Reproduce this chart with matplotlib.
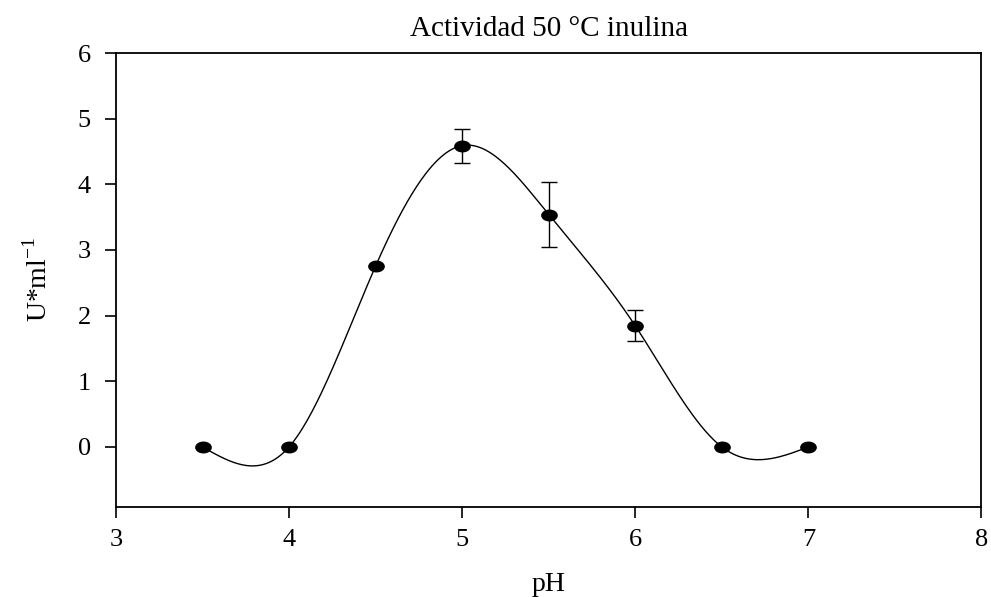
import numpy as np
import matplotlib.pyplot as plt
from matplotlib.path import Path

# data
ph = np.array([3.5, 4.0, 4.5, 5.0, 5.5, 6.0, 6.5, 7.0])
actividad = np.array([0.0, 0.0, 2.755, 4.59, 3.54, 1.845, 0.0, 0.0])
error = np.array([0.0, 0.0, 0.0, 0.26, 0.49, 0.235, 0.0, 0.0])


def natural_spline(x, y, xs):
    # natural cubic spline through the points
    n = len(x)
    h = np.diff(x)
    A = np.zeros((n, n))
    b = np.zeros(n)
    A[0, 0] = 1
    A[-1, -1] = 1
    for i in range(1, n - 1):
        A[i, i - 1] = h[i - 1]
        A[i, i] = 2 * (h[i - 1] + h[i])
        A[i, i + 1] = h[i]
        b[i] = 6 * ((y[i + 1] - y[i]) / h[i] - (y[i] - y[i - 1]) / h[i - 1])
    M = np.linalg.solve(A, b)
    ys = np.zeros_like(xs)
    for k, xv in enumerate(xs):
        i = min(np.searchsorted(x, xv, side='right') - 1, n - 2)
        i = max(i, 0)
        t1 = x[i + 1] - xv
        t0 = xv - x[i]
        ys[k] = (M[i] * t1**3 + M[i + 1] * t0**3) / (6 * h[i]) \
            + (y[i] / h[i] - M[i] * h[i] / 6) * t1 \
            + (y[i + 1] / h[i] - M[i + 1] * h[i] / 6) * t0
    return ys


plt.rcParams['font.family'] = 'Liberation Serif'
label_size = 19

fig = plt.figure(figsize=(9.91, 5.97), dpi=100)
ax = fig.add_axes([0.117, 0.1513, 0.8734, 0.7599])

xs = np.linspace(ph[0], ph[-1], 400)
ax.plot(xs, natural_spline(ph, actividad, xs), color='black', linewidth=1.0, zorder=2)

# slightly flattened dot, like the original
ellipse = Path(Path.unit_circle().vertices * [1.45, 1.0], Path.unit_circle().codes)
has_err = error > 0
ax.errorbar(ph[has_err], actividad[has_err], yerr=error[has_err], fmt='none',
            ecolor='black', elinewidth=1.0, capsize=6, capthick=1.0, zorder=3)
ax.plot(ph, actividad, linestyle='none', marker=ellipse, markersize=11,
        color='black', zorder=4)

ax.set_xlim(3, 8)
ax.set_ylim(-0.91, 6)
ax.set_xticks([3, 4, 5, 6, 7, 8])
ax.set_yticks([0, 1, 2, 3, 4, 5, 6])
ax.tick_params(axis='both', direction='out', length=8, width=1.2,
               labelsize=label_size)
ax.tick_params(axis='x', pad=8)
ax.tick_params(axis='y', pad=10)
for s in ax.spines.values():
    s.set_linewidth(1.3)

ax.set_title('Actividad 50 °C inulina', fontsize=21, pad=12)
ax.set_xlabel('pH', fontsize=20, labelpad=15)
ax.set_ylabel('U*ml$^{\\mathregular{-1}}$', fontsize=20, labelpad=18)

plt.savefig('out.png', dpi=100)
